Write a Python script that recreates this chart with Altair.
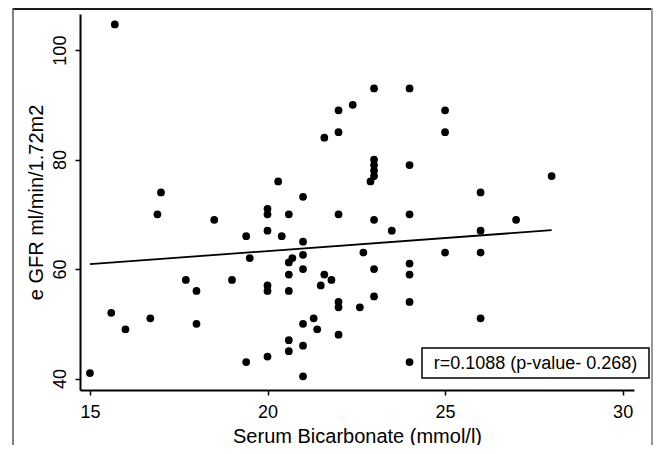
import altair as alt
import pandas as pd

# Scatter data
bicarb = [15.7, 23, 24, 22.4, 22, 25, 22, 25, 21.6, 23, 23, 23, 23, 22.9, 24, 28,
          20.3, 17, 26, 21, 20, 20, 16.9, 20.6, 22, 24, 18.5, 23, 27, 20, 23.5, 26,
          19.4, 20.4, 21, 22.7, 25, 26, 21, 19.5, 20.7, 20.6, 24, 21, 23, 20.6, 21.6,
          24, 17.7, 19, 21.8, 20, 21.5, 18, 20, 20.6, 23, 22, 24, 22, 22.6, 15.6, 16.7,
          21.3, 26, 18, 21, 16, 21.4, 22, 20.6, 21, 20.6, 20, 19.4, 24, 15, 21]
egfr = [104.7, 93, 93, 90, 89, 89, 85, 85, 84, 80, 79, 78, 77, 76, 79, 77,
        76, 74, 74, 73.2, 71, 70, 70, 70, 70, 70, 69, 69, 69, 67, 67, 67,
        66, 66, 65, 63, 63, 63, 62.6, 62, 62, 61.2, 61, 60, 60, 59, 59,
        59, 58, 58, 58, 57, 57, 56, 56, 56, 55, 54, 54, 53, 53, 52, 51,
        51, 51, 50, 50, 49, 49, 48, 47, 46, 45, 44, 43, 43, 41, 40.4]

# Fitted line end points
fit_x = [15, 28]
fit_y = [60.9, 67.1]

x_ticks = [15, 20, 25, 30]
y_ticks = [40, 60, 80, 100]
annotation = "r=0.1088 (p-value- 0.268)"

FONT = "Liberation Sans"

pts = pd.DataFrame({"bicarb": bicarb, "egfr": egfr})
fit = pd.DataFrame({"bicarb": fit_x, "egfr": fit_y})
one = pd.DataFrame({"d": [0]})

xscale = alt.Scale(domain=[14.72, 30.32], nice=False, zero=False)
yscale = alt.Scale(domain=[37.9, 106.6], nice=False, zero=False)

xaxis = alt.Axis(values=x_ticks, title="Serum Bicarbonate (mmol/l)", grid=False,
                 domainColor="black", domainWidth=2, tickColor="black", tickWidth=1.5,
                 tickSize=5, labelFont=FONT, labelFontSize=18, labelColor="black",
                 labelPadding=8, titleFont=FONT, titleFontSize=20, titleFontWeight="normal",
                 titleColor="black", titleY=52, titleBaseline="alphabetic")
yaxis = alt.Axis(values=y_ticks, title="e GFR ml/min/1.72m2", grid=False,
                 domainColor="black", domainWidth=2, tickColor="black", tickWidth=1.5,
                 tickSize=5, labelFont=FONT, labelFontSize=18, labelColor="black",
                 labelAngle=270, labelAlign="center", labelBaseline="alphabetic",
                 labelPadding=10, titleFont=FONT, titleFontSize=20, titleFontWeight="normal",
                 titleColor="black", titleAngle=270, titleX=-38, titleY=188,
                 titleAlign="center", titleBaseline="alphabetic")

points = alt.Chart(pts).mark_circle(size=60, color="black", opacity=1).encode(
    x=alt.X("bicarb:Q", scale=xscale, axis=xaxis),
    y=alt.Y("egfr:Q", scale=yscale, axis=yaxis),
)

line = alt.Chart(fit).mark_line(color="black", strokeWidth=1.8).encode(
    x="bicarb:Q", y="egfr:Q"
)

frame_top = alt.Chart(one).mark_rule(color="#1a1a1a", strokeWidth=2).encode(
    x=alt.value(-67), x2=alt.value(572), y=alt.value(-5))
frame_left = alt.Chart(one).mark_rule(color="#555555", strokeWidth=1.5).encode(
    x=alt.value(-67), y=alt.value(-6), y2=alt.value(460))
frame_right = alt.Chart(one).mark_rule(color="#999999", strokeWidth=2).encode(
    x=alt.value(572), y=alt.value(-6), y2=alt.value(460))

box = alt.Chart(one).mark_rect(fill="white", stroke="black", strokeWidth=1.5).encode(
    x=alt.value(342), x2=alt.value(569), y=alt.value(334), y2=alt.value(364))
label = alt.Chart(pd.DataFrame({"t": [annotation]})).mark_text(
    font=FONT, fontSize=18, color="black", align="center", baseline="middle").encode(
    text="t:N", x=alt.value(455.5), y=alt.value(349.5))

chart = alt.layer(frame_top, frame_left, frame_right, points, line, box, label).properties(
    width=554, height=376,
    padding={"left": 72, "top": 6, "right": 19, "bottom": 55},
    autosize=alt.AutoSizeParams(type="none"),
    background="white",
).configure_view(stroke="transparent")

chart.save("out.html", embed_options={"renderer": "svg", "actions": False})
